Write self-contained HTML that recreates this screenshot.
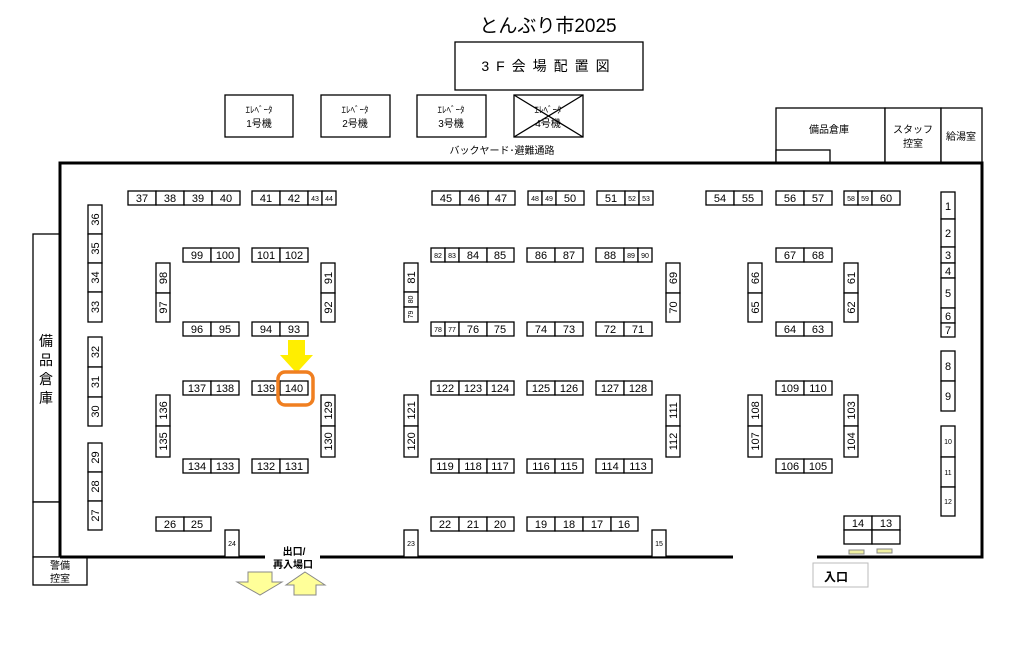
<!DOCTYPE html>
<html><head><meta charset="utf-8"><style>
html,body{margin:0;padding:0;background:#fff;width:1019px;height:648px;overflow:hidden}
svg{display:block}
text{font-family:"Liberation Sans","Noto Sans CJK JP",sans-serif;fill:#000}
.c{fill:#fff;stroke:#000;stroke-width:1.3}
.n{font-size:11px;text-anchor:middle}
.s{font-size:7px;text-anchor:middle}
</style></head><body>
<svg width="1019" height="648" viewBox="0 0 1019 648" xmlns="http://www.w3.org/2000/svg">
<!-- header -->
<text x="548" y="32" font-size="19" text-anchor="middle">とんぶり市2025</text>
<rect x="455" y="42" width="188" height="48" class="c"/>
<text x="549" y="71" font-size="14" text-anchor="middle" letter-spacing="7">3F会場配置図</text>
<g font-size="9" text-anchor="middle">
<rect x="225" y="95" width="68" height="42" class="c"/><text x="259" y="113">ｴﾚﾍﾞｰﾀ</text><text x="259" y="127" font-size="10">1号機</text>
<rect x="321" y="95" width="69" height="42" class="c"/><text x="355" y="113">ｴﾚﾍﾞｰﾀ</text><text x="355" y="127" font-size="10">2号機</text>
<rect x="417" y="95" width="69" height="42" class="c"/><text x="451" y="113">ｴﾚﾍﾞｰﾀ</text><text x="451" y="127" font-size="10">3号機</text>
<rect x="514" y="95" width="69" height="42" class="c"/><text x="548" y="113">ｴﾚﾍﾞｰﾀ</text><text x="548" y="127" font-size="10">4号機</text>
<line x1="514" y1="95" x2="583" y2="137" stroke="#000" stroke-width="1.3"/><line x1="583" y1="95" x2="514" y2="137" stroke="#000" stroke-width="1.3"/>
<text x="502" y="154" font-size="10">バックヤード･避難通路</text>
</g>
<!-- top right rooms -->
<rect x="776" y="108" width="109" height="55" class="c"/><rect x="776" y="150" width="54" height="13" class="c"/>
<text x="829" y="133" font-size="10" text-anchor="middle">備品倉庫</text>
<rect x="885" y="108" width="56" height="55" class="c"/>
<text x="913" y="133" font-size="10" text-anchor="middle">スタッフ</text><text x="913" y="147" font-size="10" text-anchor="middle">控室</text>
<rect x="941" y="108" width="41" height="55" class="c"/>
<text x="961" y="140" font-size="10" text-anchor="middle">給湯室</text>
<!-- left rooms -->
<rect x="33" y="234" width="27" height="268" class="c"/>
<g font-size="14" text-anchor="middle"><text x="46" y="346">備</text><text x="46" y="365">品</text><text x="46" y="384">倉</text><text x="46" y="403">庫</text>
<text x="46" y="518">給</text><text x="46" y="536">湯</text><text x="46" y="554">室</text></g>
<rect x="33" y="502" width="27" height="55" class="c"/>
<rect x="33" y="557" width="54" height="28" class="c"/>
<text x="60" y="569" font-size="10" text-anchor="middle">警備</text><text x="60" y="582" font-size="10" text-anchor="middle">控室</text>
<!-- hall walls -->
<g stroke="#000" stroke-width="3" fill="none">
<polyline points="60,557 60,163 982,163 982,557 817,557"/>
<line x1="60" y1="557" x2="265" y2="557"/>
<line x1="320" y1="557" x2="733" y2="557"/>
</g>
<!-- top row y=191 -->
<g>
<rect class="c" x="128" y="191" width="28" height="14"/><text class="n" x="142" y="202">37</text>
<rect class="c" x="156" y="191" width="28" height="14"/><text class="n" x="170" y="202">38</text>
<rect class="c" x="184" y="191" width="28" height="14"/><text class="n" x="198" y="202">39</text>
<rect class="c" x="212" y="191" width="28" height="14"/><text class="n" x="226" y="202">40</text>
<rect class="c" x="252" y="191" width="28" height="14"/><text class="n" x="266" y="202">41</text>
<rect class="c" x="280" y="191" width="28" height="14"/><text class="n" x="294" y="202">42</text>
<rect class="c" x="308" y="191" width="14" height="14"/><text class="s" x="315" y="201">43</text>
<rect class="c" x="322" y="191" width="14" height="14"/><text class="s" x="329" y="201">44</text>
<rect class="c" x="432" y="191" width="28" height="14"/><text class="n" x="446" y="202">45</text>
<rect class="c" x="460" y="191" width="28" height="14"/><text class="n" x="474" y="202">46</text>
<rect class="c" x="488" y="191" width="27" height="14"/><text class="n" x="501" y="202">47</text>
<rect class="c" x="528" y="191" width="14" height="14"/><text class="s" x="535" y="201">48</text>
<rect class="c" x="542" y="191" width="14" height="14"/><text class="s" x="549" y="201">49</text>
<rect class="c" x="556" y="191" width="28" height="14"/><text class="n" x="570" y="202">50</text>
<rect class="c" x="597" y="191" width="28" height="14"/><text class="n" x="611" y="202">51</text>
<rect class="c" x="625" y="191" width="14" height="14"/><text class="s" x="632" y="201">52</text>
<rect class="c" x="639" y="191" width="14" height="14"/><text class="s" x="646" y="201">53</text>
<rect class="c" x="706" y="191" width="28" height="14"/><text class="n" x="720" y="202">54</text>
<rect class="c" x="734" y="191" width="28" height="14"/><text class="n" x="748" y="202">55</text>
<rect class="c" x="776" y="191" width="28" height="14"/><text class="n" x="790" y="202">56</text>
<rect class="c" x="804" y="191" width="28" height="14"/><text class="n" x="818" y="202">57</text>
<rect class="c" x="844" y="191" width="14" height="14"/><text class="s" x="851" y="201">58</text>
<rect class="c" x="858" y="191" width="14" height="14"/><text class="s" x="865" y="201">59</text>
<rect class="c" x="872" y="191" width="28" height="14"/><text class="n" x="886" y="202">60</text>
</g>
<!-- row y=248 -->
<g>
<rect class="c" x="183" y="248" width="28" height="14"/><text class="n" x="197" y="259">99</text>
<rect class="c" x="211" y="248" width="28" height="14"/><text class="n" x="225" y="259">100</text>
<rect class="c" x="252" y="248" width="28" height="14"/><text class="n" x="266" y="259">101</text>
<rect class="c" x="280" y="248" width="28" height="14"/><text class="n" x="294" y="259">102</text>
<rect class="c" x="431" y="248" width="14" height="14"/><text class="s" x="438" y="258">82</text>
<rect class="c" x="445" y="248" width="14" height="14"/><text class="s" x="452" y="258">83</text>
<rect class="c" x="459" y="248" width="28" height="14"/><text class="n" x="473" y="259">84</text>
<rect class="c" x="487" y="248" width="27" height="14"/><text class="n" x="500" y="259">85</text>
<rect class="c" x="527" y="248" width="28" height="14"/><text class="n" x="541" y="259">86</text>
<rect class="c" x="555" y="248" width="28" height="14"/><text class="n" x="569" y="259">87</text>
<rect class="c" x="596" y="248" width="28" height="14"/><text class="n" x="610" y="259">88</text>
<rect class="c" x="624" y="248" width="14" height="14"/><text class="s" x="631" y="258">89</text>
<rect class="c" x="638" y="248" width="14" height="14"/><text class="s" x="645" y="258">90</text>
<rect class="c" x="776" y="248" width="28" height="14"/><text class="n" x="790" y="259">67</text>
<rect class="c" x="804" y="248" width="28" height="14"/><text class="n" x="818" y="259">68</text>
</g>
<!-- row y=322 -->
<g>
<rect class="c" x="183" y="322" width="28" height="14"/><text class="n" x="197" y="333">96</text>
<rect class="c" x="211" y="322" width="28" height="14"/><text class="n" x="225" y="333">95</text>
<rect class="c" x="252" y="322" width="28" height="14"/><text class="n" x="266" y="333">94</text>
<rect class="c" x="280" y="322" width="28" height="14"/><text class="n" x="294" y="333">93</text>
<rect class="c" x="431" y="322" width="14" height="14"/><text class="s" x="438" y="332">78</text>
<rect class="c" x="445" y="322" width="14" height="14"/><text class="s" x="452" y="332">77</text>
<rect class="c" x="459" y="322" width="28" height="14"/><text class="n" x="473" y="333">76</text>
<rect class="c" x="487" y="322" width="27" height="14"/><text class="n" x="500" y="333">75</text>
<rect class="c" x="527" y="322" width="28" height="14"/><text class="n" x="541" y="333">74</text>
<rect class="c" x="555" y="322" width="28" height="14"/><text class="n" x="569" y="333">73</text>
<rect class="c" x="596" y="322" width="28" height="14"/><text class="n" x="610" y="333">72</text>
<rect class="c" x="624" y="322" width="28" height="14"/><text class="n" x="638" y="333">71</text>
<rect class="c" x="776" y="322" width="28" height="14"/><text class="n" x="790" y="333">64</text>
<rect class="c" x="804" y="322" width="28" height="14"/><text class="n" x="818" y="333">63</text>
</g>
<!-- row y=381 -->
<g>
<rect class="c" x="183" y="381" width="28" height="14"/><text class="n" x="197" y="392">137</text>
<rect class="c" x="211" y="381" width="28" height="14"/><text class="n" x="225" y="392">138</text>
<rect class="c" x="252" y="381" width="28" height="14"/><text class="n" x="266" y="392">139</text>
<rect class="c" x="280" y="381" width="28" height="14"/><text class="n" x="294" y="392">140</text>
<rect class="c" x="431" y="381" width="28" height="14"/><text class="n" x="445" y="392">122</text>
<rect class="c" x="459" y="381" width="28" height="14"/><text class="n" x="473" y="392">123</text>
<rect class="c" x="487" y="381" width="27" height="14"/><text class="n" x="500" y="392">124</text>
<rect class="c" x="527" y="381" width="28" height="14"/><text class="n" x="541" y="392">125</text>
<rect class="c" x="555" y="381" width="28" height="14"/><text class="n" x="569" y="392">126</text>
<rect class="c" x="596" y="381" width="28" height="14"/><text class="n" x="610" y="392">127</text>
<rect class="c" x="624" y="381" width="28" height="14"/><text class="n" x="638" y="392">128</text>
<rect class="c" x="776" y="381" width="28" height="14"/><text class="n" x="790" y="392">109</text>
<rect class="c" x="804" y="381" width="28" height="14"/><text class="n" x="818" y="392">110</text>
</g>
<!-- row y=459 -->
<g>
<rect class="c" x="183" y="459" width="28" height="14"/><text class="n" x="197" y="470">134</text>
<rect class="c" x="211" y="459" width="28" height="14"/><text class="n" x="225" y="470">133</text>
<rect class="c" x="252" y="459" width="28" height="14"/><text class="n" x="266" y="470">132</text>
<rect class="c" x="280" y="459" width="28" height="14"/><text class="n" x="294" y="470">131</text>
<rect class="c" x="431" y="459" width="28" height="14"/><text class="n" x="445" y="470">119</text>
<rect class="c" x="459" y="459" width="28" height="14"/><text class="n" x="473" y="470">118</text>
<rect class="c" x="487" y="459" width="27" height="14"/><text class="n" x="500" y="470">117</text>
<rect class="c" x="527" y="459" width="28" height="14"/><text class="n" x="541" y="470">116</text>
<rect class="c" x="555" y="459" width="28" height="14"/><text class="n" x="569" y="470">115</text>
<rect class="c" x="596" y="459" width="28" height="14"/><text class="n" x="610" y="470">114</text>
<rect class="c" x="624" y="459" width="28" height="14"/><text class="n" x="638" y="470">113</text>
<rect class="c" x="776" y="459" width="28" height="14"/><text class="n" x="790" y="470">106</text>
<rect class="c" x="804" y="459" width="28" height="14"/><text class="n" x="818" y="470">105</text>
</g>
<!-- row y=517 -->
<g>
<rect class="c" x="156" y="517" width="28" height="14"/><text class="n" x="170" y="528">26</text>
<rect class="c" x="184" y="517" width="27" height="14"/><text class="n" x="197" y="528">25</text>
<rect class="c" x="431" y="517" width="28" height="14"/><text class="n" x="445" y="528">22</text>
<rect class="c" x="459" y="517" width="28" height="14"/><text class="n" x="473" y="528">21</text>
<rect class="c" x="487" y="517" width="27" height="14"/><text class="n" x="500" y="528">20</text>
<rect class="c" x="527" y="517" width="28" height="14"/><text class="n" x="541" y="528">19</text>
<rect class="c" x="555" y="517" width="28" height="14"/><text class="n" x="569" y="528">18</text>
<rect class="c" x="583" y="517" width="28" height="14"/><text class="n" x="597" y="528">17</text>
<rect class="c" x="611" y="517" width="27" height="14"/><text class="n" x="624" y="528">16</text>
<rect class="c" x="844" y="516" width="28" height="14"/><text class="n" x="858" y="527">14</text>
<rect class="c" x="872" y="516" width="28" height="14"/><text class="n" x="886" y="527">13</text>
<rect class="c" x="844" y="530" width="28" height="14"/><rect class="c" x="872" y="530" width="28" height="14"/>
<rect x="849" y="550" width="15" height="4" fill="#f0f0a0" stroke="#888" stroke-width="1"/>
<rect x="877" y="549" width="15" height="4" fill="#f0f0a0" stroke="#888" stroke-width="1"/>
</g>
<!-- vertical booths -->
<g>
<rect class="c" x="88" y="205" width="14" height="29"/><text class="n" transform="translate(99,219.5) rotate(-90)">36</text>
<rect class="c" x="88" y="234" width="14" height="29"/><text class="n" transform="translate(99,248.5) rotate(-90)">35</text>
<rect class="c" x="88" y="263" width="14" height="29"/><text class="n" transform="translate(99,277.5) rotate(-90)">34</text>
<rect class="c" x="88" y="292" width="14" height="30"/><text class="n" transform="translate(99,307) rotate(-90)">33</text>
<rect class="c" x="88" y="337" width="14" height="30"/><text class="n" transform="translate(99,352) rotate(-90)">32</text>
<rect class="c" x="88" y="367" width="14" height="30"/><text class="n" transform="translate(99,382) rotate(-90)">31</text>
<rect class="c" x="88" y="397" width="14" height="29"/><text class="n" transform="translate(99,411.5) rotate(-90)">30</text>
<rect class="c" x="88" y="443" width="14" height="29"/><text class="n" transform="translate(99,457.5) rotate(-90)">29</text>
<rect class="c" x="88" y="472" width="14" height="29"/><text class="n" transform="translate(99,486.5) rotate(-90)">28</text>
<rect class="c" x="88" y="501" width="14" height="29"/><text class="n" transform="translate(99,515.5) rotate(-90)">27</text>

<rect class="c" x="156" y="263" width="14" height="30"/><text class="n" transform="translate(167,278) rotate(-90)">98</text>
<rect class="c" x="156" y="293" width="14" height="29"/><text class="n" transform="translate(167,307.5) rotate(-90)">97</text>
<rect class="c" x="156" y="395" width="14" height="31"/><text class="n" transform="translate(167,410.5) rotate(-90)">136</text>
<rect class="c" x="156" y="426" width="14" height="31"/><text class="n" transform="translate(167,441.5) rotate(-90)">135</text>

<rect class="c" x="321" y="263" width="14" height="30"/><text class="n" transform="translate(332,278) rotate(-90)">91</text>
<rect class="c" x="321" y="293" width="14" height="29"/><text class="n" transform="translate(332,307.5) rotate(-90)">92</text>
<rect class="c" x="321" y="395" width="14" height="31"/><text class="n" transform="translate(332,410.5) rotate(-90)">129</text>
<rect class="c" x="321" y="426" width="14" height="31"/><text class="n" transform="translate(332,441.5) rotate(-90)">130</text>

<rect class="c" x="404" y="263" width="14" height="29"/><text class="n" transform="translate(415,277.5) rotate(-90)">81</text>
<rect class="c" x="404" y="292" width="14" height="15"/><text class="s" transform="translate(413,299.5) rotate(-90)">80</text>
<rect class="c" x="404" y="307" width="14" height="15"/><text class="s" transform="translate(413,314.5) rotate(-90)">79</text>
<rect class="c" x="404" y="395" width="14" height="31"/><text class="n" transform="translate(415,410.5) rotate(-90)">121</text>
<rect class="c" x="404" y="426" width="14" height="31"/><text class="n" transform="translate(415,441.5) rotate(-90)">120</text>

<rect class="c" x="666" y="263" width="14" height="30"/><text class="n" transform="translate(677,278) rotate(-90)">69</text>
<rect class="c" x="666" y="293" width="14" height="29"/><text class="n" transform="translate(677,307.5) rotate(-90)">70</text>
<rect class="c" x="666" y="395" width="14" height="31"/><text class="n" transform="translate(677,410.5) rotate(-90)">111</text>
<rect class="c" x="666" y="426" width="14" height="31"/><text class="n" transform="translate(677,441.5) rotate(-90)">112</text>

<rect class="c" x="748" y="263" width="14" height="30"/><text class="n" transform="translate(759,278) rotate(-90)">66</text>
<rect class="c" x="748" y="293" width="14" height="29"/><text class="n" transform="translate(759,307.5) rotate(-90)">65</text>
<rect class="c" x="748" y="395" width="14" height="31"/><text class="n" transform="translate(759,410.5) rotate(-90)">108</text>
<rect class="c" x="748" y="426" width="14" height="31"/><text class="n" transform="translate(759,441.5) rotate(-90)">107</text>

<rect class="c" x="844" y="263" width="14" height="30"/><text class="n" transform="translate(855,278) rotate(-90)">61</text>
<rect class="c" x="844" y="293" width="14" height="29"/><text class="n" transform="translate(855,307.5) rotate(-90)">62</text>
<rect class="c" x="844" y="395" width="14" height="31"/><text class="n" transform="translate(855,410.5) rotate(-90)">103</text>
<rect class="c" x="844" y="426" width="14" height="31"/><text class="n" transform="translate(855,441.5) rotate(-90)">104</text>

<rect class="c" x="225" y="530" width="14" height="27"/><text class="s" x="232" y="546">24</text>
<rect class="c" x="404" y="530" width="14" height="27"/><text class="s" x="411" y="546">23</text>
<rect class="c" x="652" y="530" width="14" height="27"/><text class="s" x="659" y="546">15</text>

<rect class="c" x="941" y="192" width="14" height="27"/><text class="n" x="948" y="210">1</text>
<rect class="c" x="941" y="219" width="14" height="28"/><text class="n" x="948" y="237">2</text>
<rect class="c" x="941" y="247" width="14" height="16"/><text class="n" x="948" y="259">3</text>
<rect class="c" x="941" y="263" width="14" height="15"/><text class="n" x="948" y="275">4</text>
<rect class="c" x="941" y="278" width="14" height="30"/><text class="n" x="948" y="297">5</text>
<rect class="c" x="941" y="308" width="14" height="15"/><text class="n" x="948" y="320">6</text>
<rect class="c" x="941" y="323" width="14" height="14"/><text class="n" x="948" y="334">7</text>
<rect class="c" x="941" y="351" width="14" height="30"/><text class="n" x="948" y="370">8</text>
<rect class="c" x="941" y="381" width="14" height="30"/><text class="n" x="948" y="400">9</text>
<rect class="c" x="941" y="426" width="14" height="31"/><text class="s" x="948" y="444">10</text>
<rect class="c" x="941" y="457" width="14" height="30"/><text class="s" x="948" y="475">11</text>
<rect class="c" x="941" y="487" width="14" height="29"/><text class="s" x="948" y="504">12</text>
</g>
<!-- highlight -->
<polygon points="288,340 305,340 305,355 313,355 296.5,373 280,355 288,355" fill="#ffee00"/>
<rect x="278" y="372" width="35" height="33" rx="7" fill="none" stroke="#f07f20" stroke-width="3.5"/>
<!-- exit -->
<text x="294" y="555" font-size="10" font-weight="bold" text-anchor="middle">出口/</text>
<text x="293" y="568" font-size="10" font-weight="bold" text-anchor="middle">再入場口</text>
<polygon points="248,572 272,572 272,582 282,582 260,595 237,582 248,582" fill="#ffff99" stroke="#888" stroke-width="1"/>
<polygon points="305,572 325,585 316,585 316,595 294,595 294,585 286,585" fill="#ffff99" stroke="#888" stroke-width="1"/>
<rect x="813" y="563" width="55" height="24" fill="#fff" stroke="#bbb" stroke-width="1"/>
<text x="836" y="581" font-size="12" font-weight="bold" text-anchor="middle">入口</text>
</svg>
</body></html>
